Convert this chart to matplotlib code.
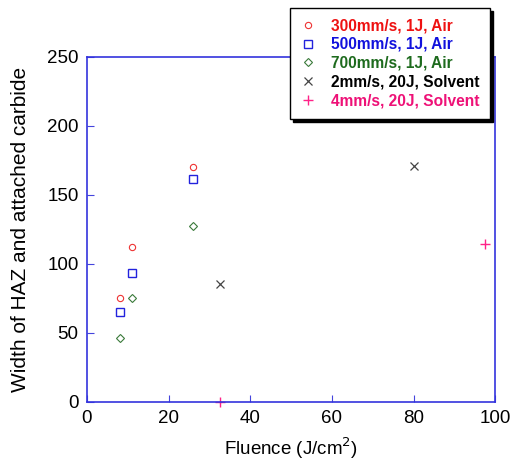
import matplotlib
matplotlib.use('Agg')
import matplotlib.pyplot as plt

plt.rcParams['font.family'] = ['Liberation Sans', 'DejaVu Sans']

# datos
fl_300 = [8, 11, 26]
w_300 = [75, 112, 170]
fl_500 = [8, 11, 26]
w_500 = [65, 93, 161]
fl_700 = [8, 11, 26]
w_700 = [46, 75, 127]
fl_2mm = [32.5, 80]
w_2mm = [85, 171]
fl_4mm = [32.5, 97.5]
w_4mm = [0, 114]

etiquetas = ['300mm/s, 1J, Air', '500mm/s, 1J, Air', '700mm/s, 1J, Air',
             '2mm/s, 20J, Solvent', '4mm/s, 20J, Solvent']
colores_txt = ['#ee1111', '#1111dd', '#1e6b1e', '#000000', '#ee1177']

fig = plt.figure(figsize=(5.11, 4.61), dpi=100)
ax = fig.add_axes([0.170, 0.129, 0.799, 0.748])

ax.plot(fl_300, w_300, ls='none', marker='o', ms=4.5, mfc='none', mec='#ee3333', mew=0.8, label=etiquetas[0])
ax.plot(fl_500, w_500, ls='none', marker='s', ms=6, mfc='none', mec='#2222dd', mew=1.0, label=etiquetas[1])
ax.plot(fl_700, w_700, ls='none', marker='D', ms=4.5, mfc='none', mec='#3a7a3a', mew=0.8, label=etiquetas[2])
ax.plot(fl_2mm, w_2mm, ls='none', marker='x', ms=6, mec='#444444', mew=0.9, label=etiquetas[3])
ax.plot(fl_4mm, w_4mm, ls='none', marker='+', ms=7, mec='#ff2288', mew=1.0, label=etiquetas[4], clip_on=False)

ax.set_xlim(0, 100)
ax.set_ylim(0, 250)
ax.set_xticks([0, 20, 40, 60, 80, 100])
ax.set_yticks([0, 50, 100, 150, 200, 250])
ax.tick_params(direction='in', length=5, color='#4444dd', labelsize=13.5, pad=6)

for s in ax.spines.values():
    s.set_color('#3333dd')
    s.set_linewidth(1.2)

ax.set_xlabel('Fluence (J/cm$^2$)', fontsize=13.5, labelpad=6)
ax.set_ylabel('Width of HAZ and attached carbide', fontsize=15, labelpad=12)

# leyenda con sombra, por encima del marco
leg = ax.legend(loc='upper left', bbox_to_anchor=(290 / 511, 1 - 8 / 461), bbox_transform=fig.transFigure,
                borderaxespad=0, frameon=True, fancybox=False, shadow={'color': 'black', 'alpha': 1.0},
                edgecolor='black', framealpha=1, prop={'weight': 'bold', 'size': 11.2},
                handletextpad=1.0, labelspacing=0.25, borderpad=0.65, handlelength=1.0)
leg.get_frame().set_linewidth(1.0)
for t, c in zip(leg.get_texts(), colores_txt):
    t.set_color(c)

fig.savefig('out.png', dpi=100)
